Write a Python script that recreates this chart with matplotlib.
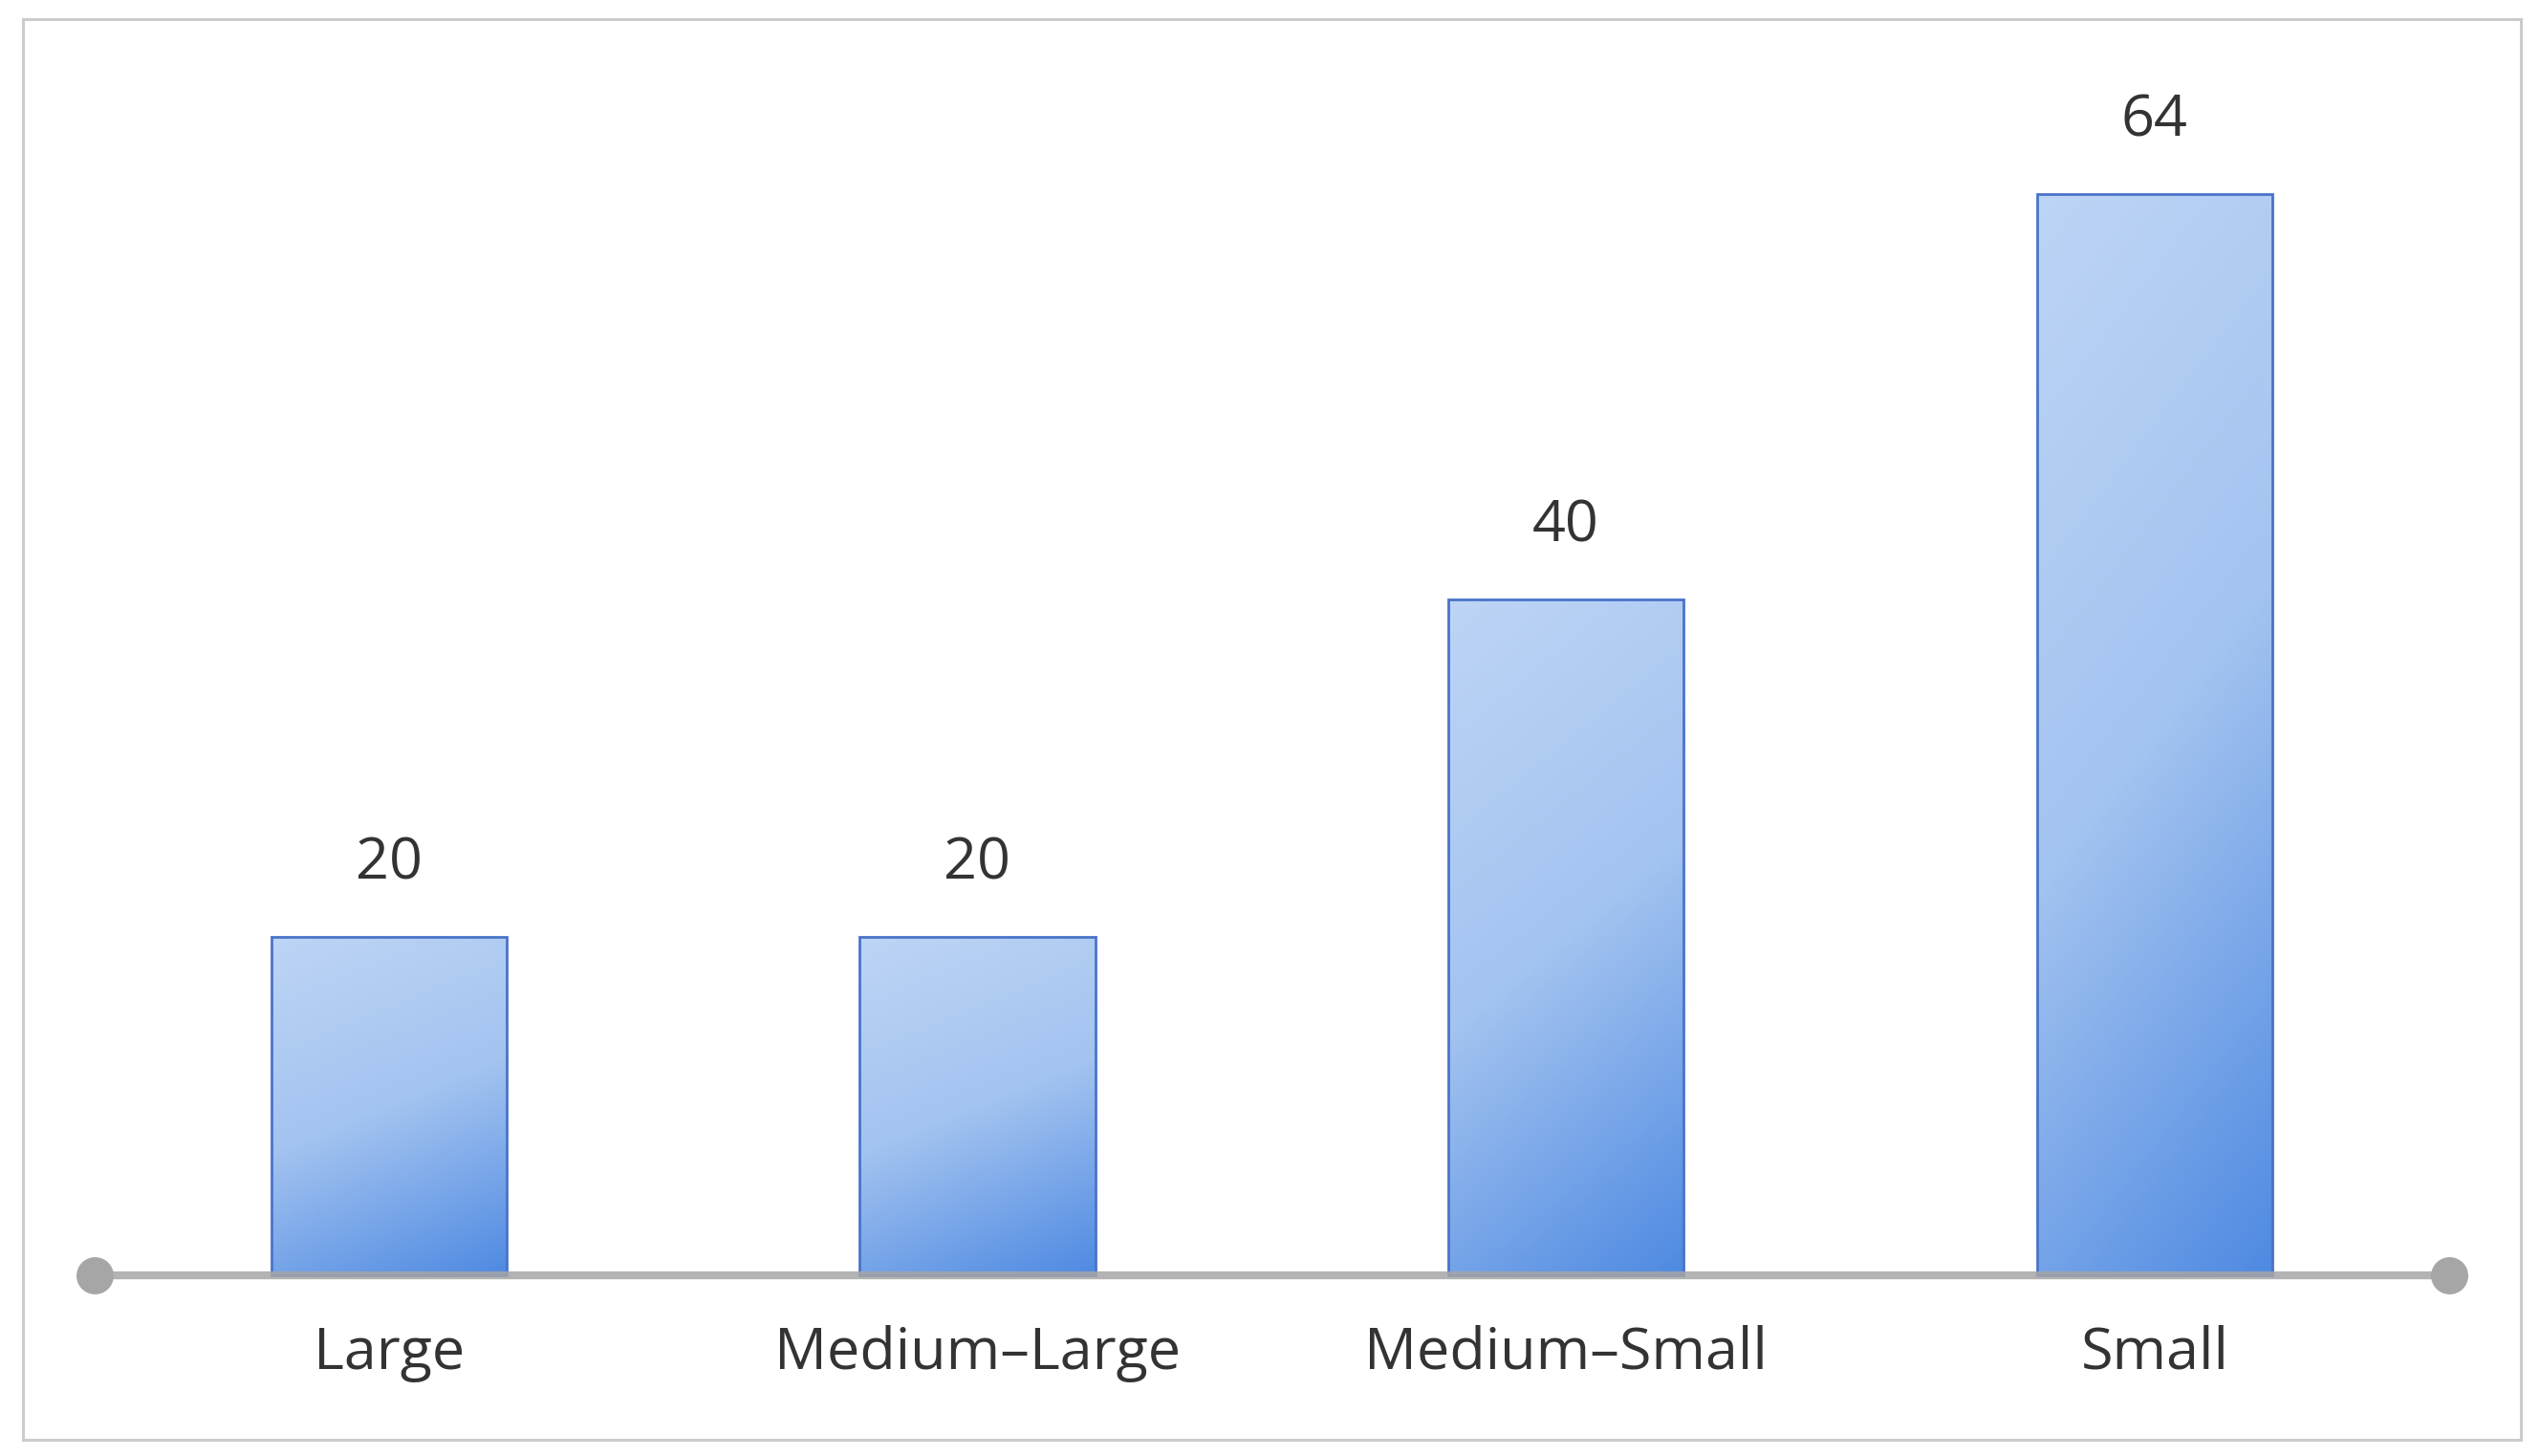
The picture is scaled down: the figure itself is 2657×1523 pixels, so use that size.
import numpy as np
import matplotlib
matplotlib.use("Agg")
import matplotlib.pyplot as plt
from matplotlib.patches import Rectangle
from matplotlib.colors import LinearSegmentedColormap

categories = ["Large", "Medium–Large", "Medium–Small", "Small"]
values = [20, 20, 40, 64]

plt.rcParams['font.family'] = ['Open Sans', 'DejaVu Sans']

W, H = 2657, 1523
dpi = 100
fig = plt.figure(figsize=(W / dpi, H / dpi), dpi=dpi)
fig.patch.set_facecolor('white')
ax = fig.add_axes([0, 0, 1, 1])
ax.axis('off')

# outer frame
fig.patches.append(Rectangle((24 / W, 17 / H), (2637 - 24) / W, (1503 - 17) / H,
                             transform=fig.transFigure, fill=False,
                             edgecolor='#cccccc', linewidth=2.2, zorder=0))

cmap = LinearSegmentedColormap.from_list('g', ['#bdd5f6', '#a3c3f0', '#4f8ae2'])
x = np.arange(len(categories))
bars = ax.bar(x, values, width=0.4, facecolor='none', edgecolor='#4a74c9',
              linewidth=2.0, zorder=3)

ny, nx = 200, 60
uu, vv = np.meshgrid(np.linspace(0, 1, nx), np.linspace(0, 1, ny))
grad = 0.78 * vv + 0.22 * uu  # row 0 = top: light at top-left, dark at bottom-right
for b in bars:
    x0, w, h = b.get_x(), b.get_width(), b.get_height()
    im = ax.imshow(grad, cmap=cmap, vmin=0, vmax=1, extent=(x0, x0 + w, 0, h),
                   origin='upper', aspect='auto', zorder=2, interpolation='bilinear')
    im.set_clip_path(b)

ax.set_xlim(-0.6605, 3.6548)
ax.set_ylim(-10.72, 75.47)

# baseline with round end dots
ax.plot([-0.5, 3.5], [0, 0], color='#a6a6a6', linewidth=6, zorder=4,
        solid_capstyle='butt', alpha=0.85)
ax.plot([-0.5, 3.5], [0, 0], linestyle='none', marker='o', markersize=27,
        color='#a6a6a6', zorder=4)

for xi, v in zip(x, values):
    ax.annotate(str(v), xy=(xi, v), xytext=(0, 55), textcoords='offset points',
                ha='center', va='center', fontsize=44, color='#333333')

for xi, c in zip(x, categories):
    ax.annotate(c, xy=(xi, 0), xytext=(0, -59), textcoords='offset points',
                ha='center', va='center', fontsize=44, color='#333333')

fig.savefig('out.png', dpi=dpi, facecolor='white')
